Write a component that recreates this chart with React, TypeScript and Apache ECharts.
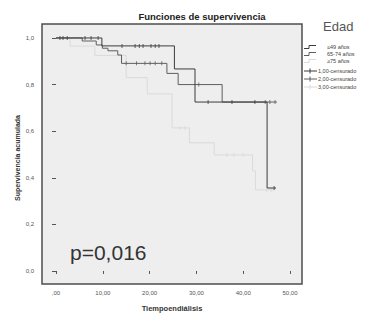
import React, { useEffect, useRef } from "react";
import * as echarts from "echarts";

// Kaplan-Meier curves (time, cumulative survival)
const times1 = [0, 9.8, 25.3, 29.7, 45.1, 47.0];
const surv1 = [1.0, 0.966, 0.867, 0.725, 0.356, 0.356];
const cens1T = [0.85, 1.5, 2.4, 6.2, 7.5, 9.0, 14.1, 16.9, 17.8, 18.6, 20.3, 21.2, 22.0, 32.5, 37.6, 42.5, 46.6];
const times2 = [0, 5.6, 8.6, 9.9, 11.1, 13.2, 14.0, 23.7, 26.1, 35.5, 47.2];
const surv2 = [1.0, 0.987, 0.97, 0.956, 0.945, 0.927, 0.891, 0.848, 0.8, 0.725, 0.725];
const cens2T = [15.0, 17.2, 19.0, 20.1, 21.2, 22.6, 30.5, 44.7, 45.7, 46.8];
const times3 = [0, 3.0, 8.3, 15.0, 19.5, 24.8, 28.5, 33.8, 42.0, 42.6, 46.8];
const surv3 = [1.0, 0.965, 0.925, 0.83, 0.76, 0.614, 0.55, 0.498, 0.43, 0.348, 0.348];
const cens3T = [26.5, 27.5, 36.5, 38.0, 40.0, 45.0, 46.0];

const yTickValues = [0, 0.2, 0.4, 0.6, 0.8, 1.0];
const yTickLabels = ["0,0", "0,2", "0,4", "0,6", "0,8", "1,0"];
const xTickValues = [0, 10, 20, 30, 40, 50];
const xTickLabels = [",00", "10,00", "20,00", "30,00", "40,00", "50,00"];

const groupNames = ["≤49 años", "65-74 años", "≥75 años"];
const censorNames = ["1,00-censurado", "2,00-censurado", "3,00-censurado"];
const colors = ["#3c3c3c", "#5e5e5e", "#dadada"];

function survAt(times: number[], surv: number[], t: number) {
  let v = surv[0];
  for (let i = 0; i < times.length; i++) if (times[i] <= t) v = surv[i];
  return v;
}

export default function App() {
  const ref = useRef<HTMLDivElement>(null);
  useEffect(() => {
    if (!ref.current) return;
    const chart = echarts.init(ref.current, undefined, { renderer: "svg" });
    const curves = [
      [times1, surv1, cens1T],
      [times2, surv2, cens2T],
      [times3, surv3, cens3T],
    ] as number[][][];
    const series: any[] = [];
    [2, 1, 0].forEach((i) => {
      const [t, s, c] = curves[i];
      series.push({
        type: "line",
        step: "end",
        data: t.map((x, k) => [x, s[k]]),
        showSymbol: false,
        lineStyle: { color: colors[i], width: 1 },
        z: 3 + (2 - i),
      });
      series.push({
        type: "scatter",
        data: c.map((x) => [x, survAt(t, s, x)]),
        symbol: "rect",
        symbolSize: [1, 4],
        itemStyle: { color: colors[i] },
        z: 3 + (2 - i),
      });
    });

    const fontFamily = "'Liberation Sans', Arial, sans-serif";
    const graphic: any[] = [
      { type: "text", x: 202, y: 16, style: { text: "Funciones de supervivencia", font: `bold 9.5px ${fontFamily}`, fill: "#222", align: "center", verticalAlign: "middle" } },
      { type: "text", x: 323, y: 20, style: { text: "Edad", font: `13px ${fontFamily}`, fill: "#555" } },
      { type: "text", x: 172, y: 308, style: { text: "Tiempoendiálisis", font: `bold 7.5px ${fontFamily}`, fill: "#333", align: "center", verticalAlign: "middle" } },
      { type: "text", x: 17, y: 158, rotation: Math.PI / 2, style: { text: "Supervivencia acumulada", font: `bold 7px ${fontFamily}`, fill: "#333", align: "center", verticalAlign: "middle" } },
      { type: "text", x: 70, y: 252, style: { text: "p=0,016", font: `21px ${fontFamily}`, fill: "#333", verticalAlign: "middle" } },
    ];
    const rowsY = [47, 54, 61];
    groupNames.forEach((n, i) => {
      const y = rowsY[i];
      graphic.push({ type: "polyline", shape: { points: [[304, y + 1.5], [309, y + 1.5], [309, y - 1.5], [316, y - 1.5]] }, style: { stroke: colors[i], lineWidth: 1, fill: null } });
      graphic.push({ type: "text", x: 327, y, style: { text: n, font: `5.5px ${fontFamily}`, fill: "#444", verticalAlign: "middle" } });
    });
    const cRowsY = [71, 79, 87];
    censorNames.forEach((n, i) => {
      const y = cRowsY[i];
      graphic.push({ type: "line", shape: { x1: 304, y1: y, x2: 317, y2: y }, style: { stroke: colors[i], lineWidth: 1 } });
      graphic.push({ type: "line", shape: { x1: 310, y1: y - 2.5, x2: 310, y2: y + 2.5 }, style: { stroke: colors[i], lineWidth: 1 } });
      graphic.push({ type: "text", x: 318, y, style: { text: n, font: `5.5px ${fontFamily}`, fill: "#444", verticalAlign: "middle" } });
    });

    chart.setOption({
      animation: false,
      backgroundColor: "#ffffff",
      textStyle: { fontFamily },
      grid: {
        left: 42,
        top: 24,
        width: 260,
        height: 260,
        show: true,
        backgroundColor: "#eeeeee",
        borderColor: "#4d4d4d",
        borderWidth: 1.5,
      },
      xAxis: {
        type: "value",
        min: -2.99,
        max: 52.56,
        splitLine: { show: false },
        axisLine: { show: false },
        axisTick: { show: true, customValues: xTickValues, length: 3, lineStyle: { color: "#555" } },
        axisLabel: {
          customValues: xTickValues,
          formatter: (v: number) => xTickLabels[xTickValues.indexOf(Math.round(v))] ?? "",
          fontSize: 6,
          color: "#555",
          margin: 6,
        },
      },
      yAxis: {
        type: "value",
        min: -0.056,
        max: 1.06,
        splitLine: { show: false },
        axisLine: { show: false },
        axisTick: { show: true, customValues: yTickValues, length: 4, lineStyle: { color: "#555" } },
        axisLabel: {
          customValues: yTickValues,
          formatter: (v: number) => {
            const idx = yTickValues.findIndex((t) => Math.abs(t - v) < 1e-6);
            return idx >= 0 ? yTickLabels[idx] : "";
          },
          fontSize: 6,
          color: "#555",
          margin: 8,
        },
      },
      series,
      graphic,
    });
    return () => chart.dispose();
  }, []);
  return <div ref={ref} style={{ position: "fixed", left: 0, top: 0, width: 378, height: 326 }} />;
}
